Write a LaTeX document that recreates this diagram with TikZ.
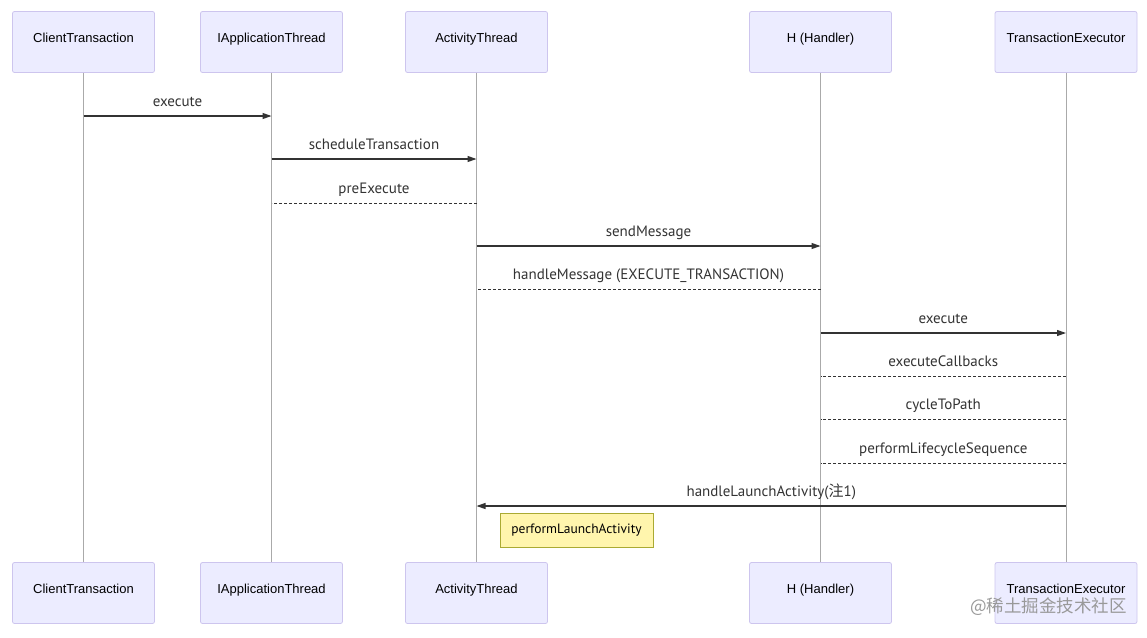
\documentclass[tikz,border=0pt]{standalone}
\usepackage{fontspec}
\setmainfont{Liberation Sans}
\newfontfamily\msgfont{PT Sans}
\newfontfamily\cjk{Noto Sans CJK SC}
\usetikzlibrary{arrows.meta}
\definecolor{actfill}{HTML}{ECECFF}
\definecolor{actdraw}{HTML}{CDC5EE}
\definecolor{notefill}{HTML}{FFF5AD}
\definecolor{notedraw}{HTML}{AAAA33}
\definecolor{lifeline}{HTML}{AAAAAA}
\definecolor{msgline}{HTML}{333333}
\tikzset{
  actor/.style={draw=actdraw, fill=actfill, rounded corners=2pt, minimum width=142pt, minimum height=61pt, inner sep=0pt, text=black, line width=0.8pt},
  actlbl/.style={font=\fontsize{13}{15}\selectfont, text=black, inner sep=0pt, anchor=base},
  life/.style={draw=lifeline, line width=0.8pt},
  msg/.style={draw=msgline, line width=1.1pt, -{Triangle[length=9pt,width=6pt]}},
  reply/.style={draw=msgline, line width=0.9pt, dash pattern=on 3pt off 2pt},
  lbl/.style={font=\msgfont\fontsize{15}{17}\selectfont, text=msgline, anchor=base},
  note/.style={draw=notedraw, fill=notefill, minimum width=153pt, minimum height=34pt, inner sep=0pt, font=\msgfont\fontsize{13.5}{15}\selectfont, text=black, line width=0.7pt}
}
\begin{document}
\begin{tikzpicture}[x=1pt,y=-1pt]
\useasboundingbox (0,0) rectangle (1147,637);
% top actors
\node[actor] (ct)  at (83.5,42) {};
\node[actor] (iat) at (271.5,42) {};
\node[actor] (at)  at (476.5,42) {};
\node[actor] (h)   at (820.5,42) {};
\node[actor] (te)  at (1066,42) {};
% bottom actors
\node[actor] (ctb)  at (83.5,593) {};
\node[actor] (iatb) at (271.5,593) {};
\node[actor] (atb)  at (476.5,593) {};
\node[actor] (hb)   at (820.5,593) {};
\node[actor] (teb)  at (1066,593) {};
% actor labels
\foreach \a/\t in {ct/ClientTransaction,iat/IApplicationThread,at/ActivityThread,h/H (Handler),te/TransactionExecutor}{
  \node[actlbl] (\a-l) at ([yshift=-0.5pt]\a.center) {\t};
  \node[actlbl] (\a b-l) at ([yshift=-0.5pt]\a b.center) {\t};
}
% lifelines
\draw[life] (ct.south) -- (ctb.north);
\draw[life] (iat.south) -- (iatb.north);
\draw[life] (at.south) -- (atb.north);
\draw[life] (h.south) -- (hb.north);
\draw[life] (te.south) -- (teb.north);
% message anchor coordinates
\foreach \n/\y in {1/116,2/159,3/203,4/246,5/289,6/333,7/376,8/419,9/463,10/506}{
  \coordinate (ct\n) at (ct.south |- 0,\y);
  \coordinate (iat\n) at (iat.south |- 0,\y);
  \coordinate (at\n) at (at.south |- 0,\y);
  \coordinate (h\n) at (h.south |- 0,\y);
  \coordinate (te\n) at (te.south |- 0,\y);
}
\draw[msg] (ct1) -- node[midway, lbl, yshift=10pt] {execute} (iat1);
\draw[msg] (iat2) -- node[midway, lbl, yshift=10pt] {scheduleTransaction} (at2);
\draw[reply] (at3) -- node[midway, lbl, yshift=10pt] {preExecute} (iat3);
\draw[msg] (at4) -- node[midway, lbl, yshift=10pt] {sendMessage} (h4);
\draw[reply] (h5) -- node[midway, lbl, yshift=10pt] {handleMessage (EXECUTE\_TRANSACTION)} (at5);
\draw[msg] (h6) -- node[midway, lbl, yshift=10pt] {execute} (te6);
\draw[reply] (te7) -- node[midway, lbl, yshift=10pt] {executeCallbacks} (h7);
\draw[reply] (te8) -- node[midway, lbl, yshift=10pt] {cycleToPath} (h8);
\draw[reply] (te9) -- node[midway, lbl, yshift=10pt] {performLifecycleSequence} (h9);
\draw[msg] (te10) -- node[midway, lbl, yshift=10pt] {handleLaunchActivity({\cjk 注}1)} (at10);
% note
\node[note] (n1) at (576.5,530) {performLaunchActivity};
% watermark
\node[font=\cjk\fontsize{17.5}{19}\selectfont, text=black!40, anchor=east, inner sep=0pt] (wm) at (1127,607) {@稀土掘金技术社区};
\end{tikzpicture}
\end{document}
